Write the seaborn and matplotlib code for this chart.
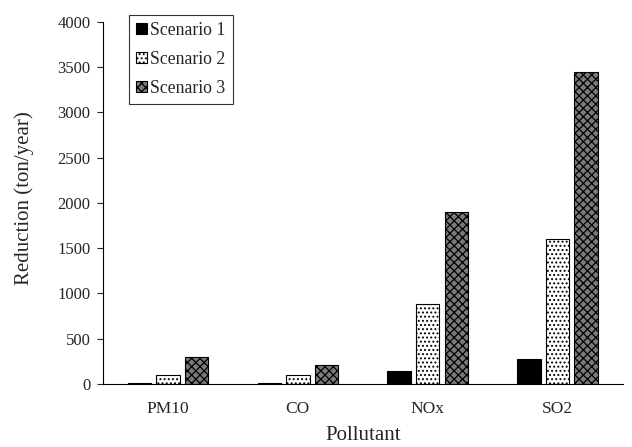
import matplotlib
matplotlib.use("Agg")
import matplotlib.pyplot as plt
import seaborn as sns
import pandas as pd

pollutants = ["PM10", "CO", "NOx", "SO2"]
scenarios = ["Scenario 1", "Scenario 2", "Scenario 3"]
scenario1 = [12, 10, 146, 271]
scenario2 = [100, 98, 887, 1605]
scenario3 = [295, 215, 1898, 3445]

rows = []
for name, vals in zip(scenarios, [scenario1, scenario2, scenario3]):
    for p, v in zip(pollutants, vals):
        rows.append({"Pollutant": p, "Scenario": name, "Reduction": v})
df = pd.DataFrame(rows)

sns.set_style("white")
plt.rcParams["font.family"] = ["Liberation Serif", "DejaVu Serif"]
plt.rcParams["hatch.linewidth"] = 0.9

fig = plt.figure(figsize=(6.32, 4.47), dpi=100)
ax = fig.add_axes([0.163, 0.141, 0.822, 0.810])

sns.barplot(data=df, x="Pollutant", y="Reduction", hue="Scenario",
            order=pollutants, hue_order=scenarios, width=0.66, gap=0.18,
            palette=["black", "white", "#7a7a7a"], edgecolor="black",
            linewidth=0.8, ax=ax, legend=True)

styles = {0: ("black", ""), 1: ("white", "...."), 2: ("#7a7a7a", "xxxx")}
for i, cont in enumerate(ax.containers):
    fc, h = styles[i]
    for bar in cont:
        bar.set_facecolor(fc)
        bar.set_hatch(h)
        bar.set_edgecolor("black")

ax.set_ylim(0, 4000)
ax.set_xlim(-0.5, 3.5)
ax.set_yticks(range(0, 4001, 500))
ax.set_xlabel("Pollutant", fontsize=15, labelpad=7)
ax.set_ylabel("Reduction (ton/year)", fontsize=15)
ax.yaxis.set_label_coords(-0.132, 0.512)
ax.tick_params(axis="y", direction="out", length=4, width=0.8, labelsize=12, left=True, pad=5)
ax.tick_params(axis="x", length=0, labelsize=12.5, pad=12)
for s in ["top", "right"]:
    ax.spines[s].set_visible(False)
for s in ["left", "bottom"]:
    ax.spines[s].set_color("black")
    ax.spines[s].set_linewidth(0.8)

handles, labels = ax.get_legend_handles_labels()
for i, hd in enumerate(handles):
    fc, h = styles[i]
    hd.set_facecolor(fc)
    hd.set_hatch(h)
    hd.set_edgecolor("black")
leg = ax.legend(handles, labels, loc="upper left", bbox_to_anchor=(0.043, 1.03),
                fontsize=12.8, frameon=True, fancybox=False, edgecolor="black",
                handlelength=0.6, handleheight=0.6, handletextpad=0.2,
                labelspacing=0.68, borderpad=0.4, borderaxespad=0.2)
leg.get_frame().set_linewidth(0.8)

fig.savefig("out.png", dpi=100)
